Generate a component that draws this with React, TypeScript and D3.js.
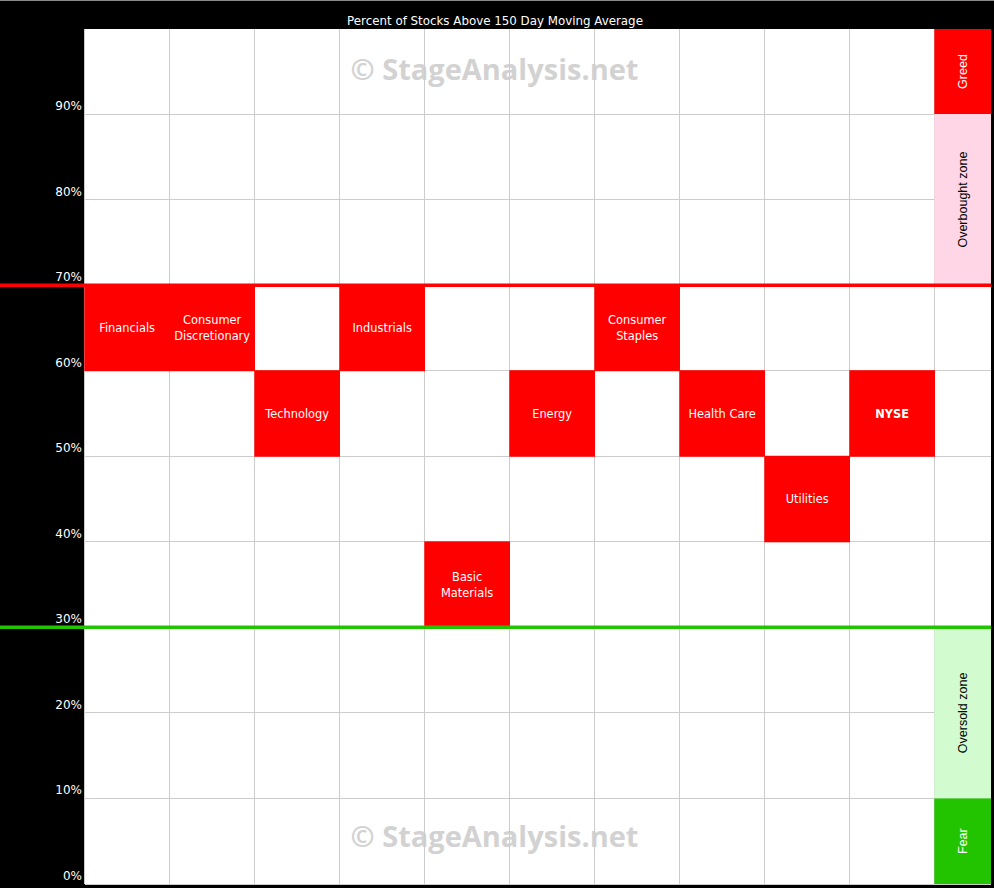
import React from "react";
import * as d3 from "d3";

const TITLE = "Percent of Stocks Above 150 Day Moving Average";
const sectors = [
  "Financials",
  "Consumer\nDiscretionary",
  "Technology",
  "Industrials",
  "Basic\nMaterials",
  "Energy",
  "Consumer\nStaples",
  "Health Care",
  "Utilities",
  "NYSE",
];
// lower bound of the 10% band each sector sits in
const bandLow = [60, 60, 50, 60, 30, 50, 60, 50, 40, 50];
const yTicks = [0, 10, 20, 30, 40, 50, 60, 70, 80, 90];
const zones = [
  { label: "Greed", lo: 90, hi: 100, fill: "#ff0000", text: "#ffffff" },
  { label: "Overbought zone", lo: 70, hi: 90, fill: "#ffd6e6", text: "#000000" },
  { label: "Oversold zone", lo: 10, hi: 30, fill: "#d2fccf", text: "#000000" },
  { label: "Fear", lo: 0, hi: 10, fill: "#22c400", text: "#ffffff" },
];
const overboughtLevel = 70;
const oversoldLevel = 30;
const WATERMARK = "© StageAnalysis.net";

const W = 994;
const H = 888;

export default function App() {
  const x = d3.scaleLinear().domain([0, 10]).range([84.3, 934.3]);
  const zoneRight = 991;
  const y = d3.scaleLinear().domain([0, 100]).range([884, 28.5]);
  const colIdx = d3.range(0, 11);
  const px = (v: number) => Math.floor(v) + 0.5;

  return (
    <svg
      width={W}
      height={H}
      style={{ position: "absolute", left: 0, top: 0, display: "block" }}
    >
      <rect x={0} y={0} width={W} height={H} fill="#000" />
      <line x1={0} x2={W} y1={0.5} y2={0.5} stroke="#8a8a8a" />
      <text
        x={495}
        y={25}
        fill="#fff"
        fontFamily="DejaVu Sans, sans-serif"
        fontSize={11.85}
        textAnchor="middle"
      >
        {TITLE}
      </text>
      {/* plot background */}
      <rect x={85} y={29} width={zoneRight - 85} height={y(0) - 29} fill="#fff" />
      {/* watermarks */}
      {[80, 847].map((wy, i) => (
        <text
          key={i}
          x={494.5}
          y={wy}
          fill="#d2d2d2"
          fontFamily="Open Sans, sans-serif"
          fontWeight="bold"
          fontSize={29}
          textAnchor="middle"
        >
          {WATERMARK}
        </text>
      ))}
      {/* grid */}
      {colIdx.map((i) => (
        <line
          key={"v" + i}
          x1={px(x(i))}
          x2={px(x(i))}
          y1={29}
          y2={y(0)}
          stroke="#cccccc"
        />
      ))}
      {d3.range(0, 100, 10).map((v) => (
        <line
          key={"h" + v}
          x1={85}
          x2={zoneRight}
          y1={px(y(v))}
          y2={px(y(v))}
          stroke="#cccccc"
        />
      ))}
      {/* zones */}
      {zones.map((z) => {
        const cx = (x(10) + zoneRight) / 2;
        const top = z.hi === 100 ? 29 : y(z.hi);
        const cy = (y(z.lo) + top) / 2;
        return (
          <g key={z.label}>
            <rect
              x={x(10)}
              y={top}
              width={zoneRight - x(10)}
              height={y(z.lo) - top}
              fill={z.fill}
            />
            <text
              transform={`translate(${cx + 4},${cy}) rotate(-90)`}
              fill={z.text}
              fontFamily="Liberation Sans, Arial, sans-serif"
              fontSize={12.5}
              textAnchor="middle"
            >
              {z.label}
            </text>
          </g>
        );
      })}
      {/* sector cells */}
      {sectors.map((s, i) => {
        const x0 = x(i);
        const x1 = x(i + 1) + 0.7;
        const y0 = y(bandLow[i] + 10) - 0.5;
        const y1 = y(bandLow[i]) + 0.5;
        const lines = s.split("\n");
        const cx = (x0 + x1) / 2;
        const cy = (y0 + y1) / 2;
        return (
          <g key={s}>
            <rect x={x0} y={y0} width={x1 - x0} height={y1 - y0} fill="#ff0000" />
            {lines.map((l, j) => (
              <text
                key={j}
                x={cx}
                y={cy + (j - (lines.length - 1) / 2) * 16}
                dy="0.36em"
                fill="#fff"
                fontFamily="DejaVu Sans, sans-serif"
                fontSize={11.4}
                fontWeight={s === "NYSE" ? "bold" : "normal"}
                textAnchor="middle"
              >
                {l}
              </text>
            ))}
          </g>
        );
      })}
      {/* threshold lines */}
      <line x1={0} x2={zoneRight} y1={y(overboughtLevel)} y2={y(overboughtLevel)} stroke="#ff0000" strokeWidth={3.5} />
      <line x1={0} x2={zoneRight} y1={y(oversoldLevel)} y2={y(oversoldLevel)} stroke="#22c400" strokeWidth={3.5} />
      {/* y labels */}
      {yTicks.map((v) => (
        <text
          key={"t" + v}
          x={82}
          y={y(v) - 4}
          fill="#fff"
          fontFamily="DejaVu Sans, sans-serif"
          fontSize={12}
          textAnchor="end"
        >
          {v}%
        </text>
      ))}
    </svg>
  );
}
